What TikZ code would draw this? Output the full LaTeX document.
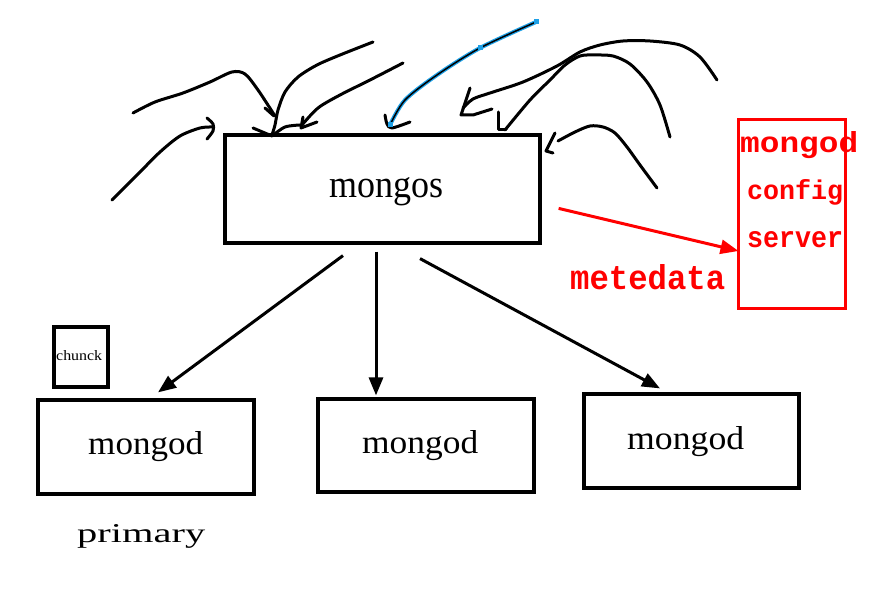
\documentclass[tikz,border=0pt]{standalone}
\usepackage{fontspec}
\setmainfont{Liberation Serif}
\newfontfamily\redfont{Liberation Mono}
\usetikzlibrary{arrows.meta,calc}
\definecolor{selblue}{RGB}{30,160,230}
\begin{document}
\begin{tikzpicture}[x=1pt,y=-1pt,
  box/.style={draw, line width=3.2pt, inner sep=0pt},
  redbox/.style={draw=red, line width=3pt, inner sep=0pt},
  txt/.style={anchor=base west, inner sep=0pt},
  redtxt/.style={anchor=base west, inner sep=0pt, text=red, font=\redfont\bfseries},
  arr/.style={line width=3pt, -{Triangle[length=18pt,width=14pt]}},
  redarr/.style={draw=red, line width=3pt, -{Triangle[length=18pt,width=14pt]}},
  sk/.style={line width=3pt, line cap=round, line join=round},
  handle/.style={fill=selblue, minimum size=5pt, inner sep=0pt}]
\useasboundingbox (0,0) rectangle (879,601);
\fill[white] (0,0) rectangle (879,601);

% boxes
\node[box, minimum width=315pt, minimum height=108pt] (mongos) at (382.5,189) {};
\node[box, minimum width=216pt, minimum height=94pt] (m1) at (146,447) {};
\node[box, minimum width=216pt, minimum height=93pt] (m2) at (426,445.5) {};
\node[box, minimum width=215pt, minimum height=94pt] (m3) at (691.5,441) {};
\node[box, minimum width=54pt, minimum height=60pt] (chunk) at (81,357) {};
\node[redbox, minimum width=107pt, minimum height=189pt] (cfg) at (791.5,214.5) {};

% texts
\node[txt] (tmongos) at (329,198) {\resizebox{114pt}{20pt}{mongos}};
\node[txt] (tm1) at (88,455) {\resizebox{115pt}{23pt}{mongod}};
\node[txt] (tm2) at (362,454) {\resizebox{116pt}{23pt}{mongod}};
\node[txt] (tm3) at (627,450) {\resizebox{117pt}{23pt}{mongod}};
\node[txt] (tprim) at (77,543) {\resizebox{128pt}{18pt}{primary}};
\node[txt] (tchunk) at (56,361) {\resizebox{46pt}{10pt}{chunck}};
\node[redtxt] (tcfg1) at (740,153) {\resizebox{118pt}{21pt}{mongod}};
\node[redtxt] (tcfg2) at (747,200) {\resizebox{96pt}{20pt}{config}};
\node[redtxt] (tcfg3) at (747,248) {\resizebox{96pt}{16pt}{server}};
\node[redtxt] (tmeta) at (570,290) {\resizebox{155pt}{25pt}{metedata}};

% connectors
\draw[arr] ([shift={(-39.5,11)}]mongos.south) -- ([shift={(12,-6)}]m1.north);
\draw[arr] ([shift={(-6.5,7)}]mongos.south) -- ([shift={(-50,-2)}]m2.north);
\draw[arr] ([shift={(37.5,14)}]mongos.south) -- ([shift={(-31.5,-4)}]m3.north);
\draw[redarr] ([shift={(17,75)}]mongos.north east) -- ([shift={(2,36.5)}]cfg.west);

% freehand sketch strokes
\draw[sk] plot[smooth] coordinates {(112,200) (140,172) (160,152) (180,136) (200,128) (212,127)};
\draw[sk] plot[smooth] coordinates {(207,118) (213,124) (213,131) (207,139)};
\draw[sk] plot[smooth] coordinates {(133,113) (155,102) (183,93) (210,82) (232,72) (245,74) (258,90) (275,116)};
\draw[sk] (265,108) -- (274,116);
\draw[sk] plot[smooth] coordinates {(373,42) (340,55) (317,65) (298,77) (285,92) (278,110) (275,125) (272,135)};
\draw[sk] (253,128) -- (272,136);
\draw[sk] plot[smooth] coordinates {(272,136) (285,127) (300,125)};
\draw[sk] plot[smooth] coordinates {(403,63) (370,80) (340,95) (318,108) (302,125)};
\draw[sk] (303,117) -- (301,128) -- (317,122);
\draw[sk] plot[smooth] coordinates {(717,80) (700,57) (680,45) (650,41) (623,41) (600,45) (580,52) (557,66) (523,82) (490,93) (473,99) (463,108)};
\draw[sk] (470,88) -- (461,115) -- (473,115) -- (492,109);
\draw[sk] plot[smooth] coordinates {(670,137) (660,105) (647,82) (630,64) (613,56) (595,55) (580,56) (565,65) (550,80) (530,100) (505,130)};
\draw[sk] (498,112) -- (498,130) -- (506,130);
\draw[sk] plot[smooth] coordinates {(657,188) (640,165) (627,147) (615,133) (603,127) (590,126) (575,132) (558,141)};
\draw[sk] (555,133) -- (546,151) -- (553,153);

% selected (blue) stroke
\draw[line width=4pt, selblue, line cap=round] plot[smooth] coordinates {(536,22) (480,48) (437,75) (405,100) (390,125)};
\draw[line width=1.5pt, black, line cap=round] plot[smooth] coordinates {(536,22) (480,48) (437,75) (405,100) (390,125)};
\draw[sk] plot[smooth] coordinates {(385,115) (387,124) (392,128) (410,122)};
\node[handle] (h1) at (536,22) {};
\node[handle] (h2) at (480,48) {};
\node[handle] (h3) at (390,125) {};
\end{tikzpicture}
\end{document}
